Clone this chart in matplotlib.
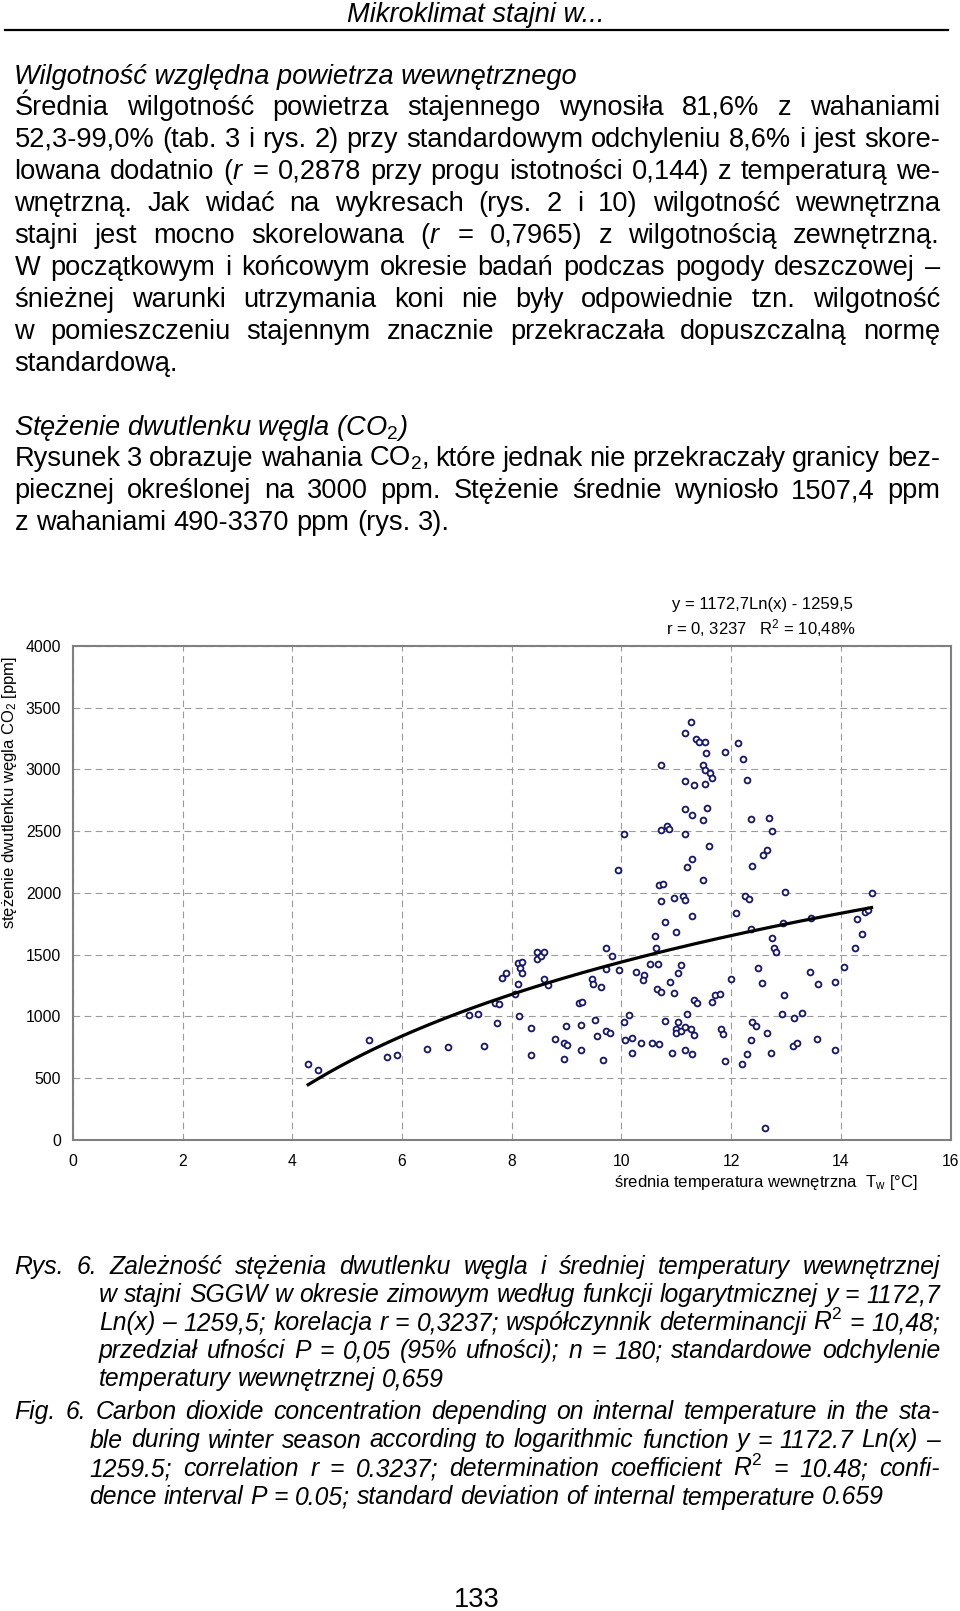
import numpy as np
import matplotlib
matplotlib.use("Agg")
import matplotlib.pyplot as plt

plt.rcParams['font.family'] = ['Liberation Sans', 'DejaVu Sans']
plt.rcParams['mathtext.fontset'] = 'custom'
plt.rcParams['mathtext.rm'] = 'Liberation Sans'
plt.rcParams['mathtext.it'] = 'Liberation Sans:italic'
plt.rcParams['mathtext.bf'] = 'Liberation Sans:bold'

# ---------------- data ----------------
temp = [4.29, 4.46, 5.39, 5.73, 5.90, 6.46, 6.83, 7.23, 7.39, 7.50, 7.69, 7.76, 7.73, 7.82, 7.90,
        8.06, 8.12, 8.13, 8.12, 8.19, 8.16, 8.19, 8.36, 8.36, 8.46, 8.46, 8.53, 8.59, 8.59, 8.66,
        8.79, 8.96, 9.00, 8.96, 8.99, 9.22, 9.29, 9.26, 9.26, 9.46, 9.49, 9.62, 9.52, 9.56, 9.66,
        9.72, 9.79, 9.72, 9.82, 9.72, 9.96,
        10.63, 10.26, 10.42, 10.39, 10.52, 10.66, 11.09, 11.03, 10.89, 10.65, 10.72, 10.96, 11.32,
        11.38, 11.66, 11.70, 11.79, 11.99, 12.49, 12.56, 12.79, 12.82, 12.96, 12.92, 13.15, 13.29,
        13.43, 13.59, 13.89, 14.06, 14.26, 13.56, 13.89, 13.13, 13.20, 12.66, 12.72, 12.36, 12.29,
        12.19, 12.39, 12.45, 12.62, 11.82, 11.86, 11.89, 10.05, 10.13, 10.06, 10.19, 10.19, 10.36,
        10.56, 10.69, 10.79, 10.92, 11.03, 10.99, 10.99, 11.09, 11.16, 11.19, 11.26, 11.33, 11.16,
        11.29,
        11.26, 11.16, 11.36, 11.42, 11.52, 11.55, 11.89, 12.12, 12.22, 10.72, 11.49, 11.52, 11.62,
        11.66, 12.29, 11.16, 11.32, 11.52, 11.16, 11.29, 11.56, 11.49, 12.36, 12.69, 12.75, 10.05,
        10.72, 10.83, 10.86, 11.16, 11.59, 9.93, 11.29, 11.19, 11.49, 10.69, 10.76, 12.39, 12.59,
        12.66, 12.99, 14.56, 10.72, 10.96, 11.13, 11.16, 12.26, 12.33, 12.09, 11.29, 10.79, 11.00,
        10.62, 12.36, 12.75, 12.95, 13.46, 14.29, 14.45, 14.50, 14.39]
co2 = [618, 567, 810, 670, 689, 740, 751, 1010, 1020, 759, 1112, 1101, 950, 1311, 1352,
       1182, 1263, 1001, 1433, 1441, 1392, 1352, 910, 689, 1524, 1465, 1490, 1524, 1301, 1252,
       818, 788, 767, 659, 921, 1109, 1120, 929, 729, 1301, 1263, 1241, 969, 840, 648,
       880, 869, 1554, 1492, 1384, 1374,
       1552, 1360, 1333, 1293, 1422, 1422, 1414, 1352, 1279, 1220, 1201, 1193, 1131,
       1112, 1120, 1171, 1182, 1301, 1392, 1271, 1554, 1522, 1171, 1020, 990, 1031,
       1360, 1263, 1279, 1403, 1554, 818, 729, 759, 788, 869, 707, 810, 699,
       618, 953, 921, 95, 899, 858, 637, 953, 1010, 810, 829, 707, 788,
       788, 780, 961, 707, 953, 901, 869, 883, 913, 1020, 899, 850, 729,
       699,
       3385, 3294, 3243, 3223, 3223, 3132, 3142, 3213, 3083, 3032, 3032, 2992, 2973,
       2932, 2911, 2903, 2873, 2881, 2679, 2630, 2689, 2590, 2600, 2608, 2498, 2479,
       2509, 2539, 2517, 2479, 2379, 2188, 2277, 2207, 2107, 2066, 2074, 2220, 2307,
       2347, 2007, 1997, 1934, 1956, 1977, 1943, 1977, 1948, 1837, 1816, 1767, 1686,
       1654, 1705, 1633, 1759, 1794, 1786, 1845, 1860, 1665]
fit_a = 1172.7
fit_b = -1259.5
x_ticks = [0, 2, 4, 6, 8, 10, 12, 14, 16]
y_ticks = [0, 500, 1000, 1500, 2000, 2500, 3000, 3500, 4000]

header = "Mikroklimat stajni w..."
heading1 = "Wilgotność względna powietrza wewnętrznego"
para1 = [
    "Średnia wilgotność powietrza stajennego wynosiła 81,6% z wahaniami",
    "52,3-99,0% (tab. 3 i rys. 2) przy standardowym odchyleniu 8,6% i jest skore-",
    "lowana dodatnio ($r$ = 0,2878 przy progu istotności 0,144) z temperaturą we-",
    "wnętrzną. Jak widać na wykresach (rys. 2 i 10) wilgotność wewnętrzna",
    "stajni jest mocno skorelowana ($r$ = 0,7965) z wilgotnością zewnętrzną.",
    "W początkowym i końcowym okresie badań podczas pogody deszczowej –",
    "śnieżnej warunki utrzymania koni nie były odpowiednie tzn. wilgotność",
    "w pomieszczeniu stajennym znacznie przekraczała dopuszczalną normę",
    "standardową.",
]
heading2 = "Stężenie dwutlenku węgla (CO$_2$)"
para2 = [
    "Rysunek 3 obrazuje wahania CO$_2$, które jednak nie przekraczały granicy bez-",
    "piecznej określonej na 3000 ppm. Stężenie średnie wyniosło 1507,4 ppm",
    "z wahaniami 490-3370 ppm (rys. 3).",
]
cap_pl = [
    "Rys. 6. Zależność stężenia dwutlenku węgla i średniej temperatury wewnętrznej",
    "w stajni SGGW w okresie zimowym według funkcji logarytmicznej y = 1172,7",
    "Ln(x) – 1259,5; korelacja r = 0,3237; współczynnik determinancji R$^2$ = 10,48;",
    "przedział ufności P = 0,05 (95% ufności); n = 180; standardowe odchylenie",
    "temperatury wewnętrznej 0,659",
]
cap_en = [
    "Fig. 6. Carbon dioxide concentration depending on internal temperature in the sta-",
    "ble during winter season according to logarithmic function y = 1172.7 Ln(x) –",
    "1259.5; correlation r = 0.3237; determination coefficient R$^2$ = 10.48; confi-",
    "dence interval P = 0.05; standard deviation of internal temperature 0.659",
]

# ---------------- figure ----------------
W, H = 960, 1611
fig = plt.figure(figsize=(W / 100, H / 100), dpi=100)
renderer = fig.canvas.get_renderer()


def fy(y):
    return 1 - y / H


def line_text(s, x0, y, size, style='normal', x1=None):
    words = s.split(' ')
    objs = [fig.text(0, fy(y), w, fontsize=size, style=style, va='baseline', ha='left')
            for w in words]
    widths = [o.get_window_extent(renderer).width for o in objs]
    if x1 is None or len(words) == 1:
        gap = size * 100 / 72 * 0.278
    else:
        gap = (x1 - x0 - sum(widths)) / (len(words) - 1)
    x = x0
    for o, w in zip(objs, widths):
        o.set_x(x / W)
        x += w + gap


BODY = 19.6
CAP = 17.8
LEFT, RIGHT = 14.5, 940

# header
fig.text(347 / W, fy(22), header, fontsize=BODY, style='italic', va='baseline', ha='left')
fig.add_artist(plt.Line2D([5 / W, 948 / W], [fy(29.5), fy(29.5)], color='black', lw=1.6))

fig.text(LEFT / W, fy(84), heading1, fontsize=BODY, style='italic', va='baseline')
for i, s in enumerate(para1):
    last = i == len(para1) - 1
    line_text(s, LEFT, 115 + 32 * i, BODY, x1=None if last else RIGHT)

fig.text(LEFT / W, fy(435), heading2, fontsize=BODY, style='italic', va='baseline')
for i, s in enumerate(para2):
    last = i == len(para2) - 1
    line_text(s, LEFT, 466 + 32 * i, BODY, x1=None if last else RIGHT)

for i, s in enumerate(cap_pl):
    last = i == len(cap_pl) - 1
    x0 = LEFT if i == 0 else 99
    line_text(s, x0, 1274 + 28 * i, CAP, style='italic', x1=None if last else RIGHT)

for i, s in enumerate(cap_en):
    last = i == len(cap_en) - 1
    x0 = LEFT if i == 0 else 89.5
    line_text(s, x0, 1419 + 28.5 * i, CAP, style='italic', x1=None if last else RIGHT)

fig.text(477 / W, fy(1600), "133", fontsize=BODY, ha='center', va='center')

# ---------------- chart ----------------
L, R, T, B = 72.9, 950.5, 645.7, 1140.1
ax = fig.add_axes([L / W, 1 - B / H, (R - L) / W, (B - T) / H])
ax.set_xlim(0, 16)
ax.set_ylim(0, 4000)
ax.set_xticks(x_ticks)
ax.set_yticks(y_ticks)
ax.grid(True, color='#9a9a9a', linestyle=(0, (6, 4)), linewidth=0.8)
ax.set_axisbelow(True)
for sp in ax.spines.values():
    sp.set_color('#808080')
    sp.set_linewidth(1.5)
ax.tick_params(axis='both', length=0, labelsize=11.3, colors='black')
ax.tick_params(axis='y', pad=8.5)
ax.tick_params(axis='x', pad=10)

ax.plot(temp, co2, 'o', mfc='white', mec='#15156b', ms=4.2, mew=1.3, zorder=3)
xs = np.linspace(min(temp), max(temp), 300)
ax.plot(xs, fit_a * np.log(xs) + fit_b, color='black', lw=2.3, zorder=4)

fig.text(762 / W, fy(605), "y = 1172,7Ln(x) - 1259,5", fontsize=12, ha='center', va='center')
fig.text(761 / W, fy(628), "r = 0, 3237   R$^2$ = 10,48%", fontsize=12, ha='center', va='center')
fig.text(10 / W, fy(792), "stężenie dwutlenku węgla CO$_2$ [ppm]", fontsize=12,
         rotation=90, ha='center', va='center')
fig.text(614 / W, fy(1183), r"średnia temperatura wewnętrzna  T$_\mathrm{w}$ [°C]", fontsize=12,
         ha='left', va='center')

fig.savefig("out.png", dpi=100)
